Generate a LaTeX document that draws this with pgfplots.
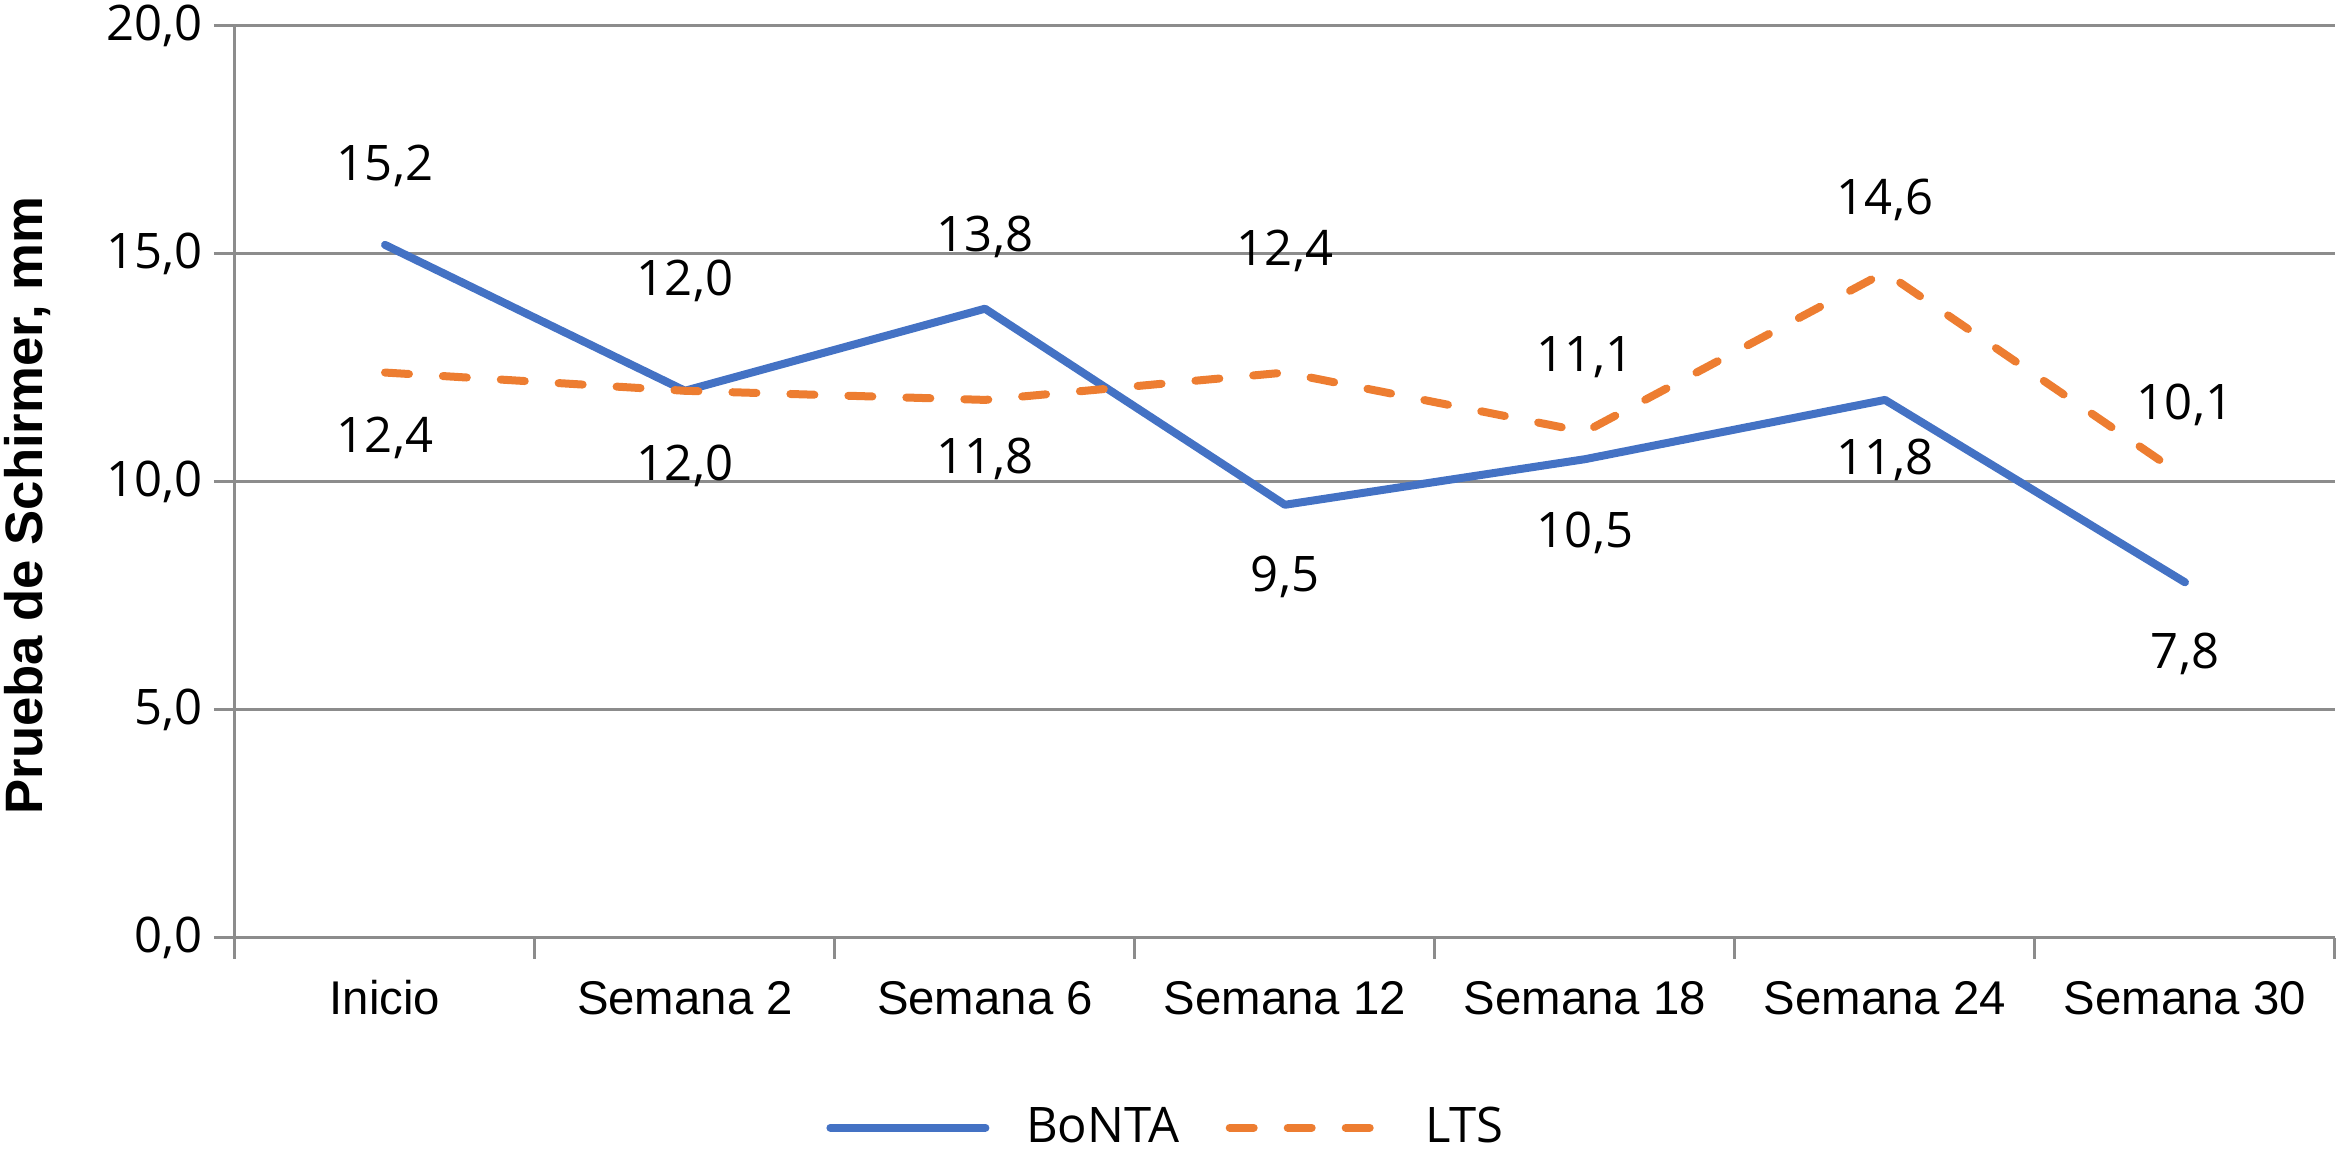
\documentclass[border=0pt]{standalone}
\usepackage{fontspec}
\setmainfont{Open Sans}
\newfontfamily\arialf{Liberation Sans}
\usepackage{pgfplots}
\pgfplotsset{compat=1.18}
\usepackage{pgfplotstable}
\definecolor{bont}{HTML}{4472C4}
\definecolor{lts}{HTML}{ED7D31}
\definecolor{gridc}{RGB}{140,140,140}

\pgfplotstableread{
x y dy
0 15.2 23.7
1 12.0 33
2 13.8 21.6
3 9.5 -21.6
4 10.5 -22.2
5 11.8 -18
6 7.8 -21.6
}\bontatab
\pgfplotstableread{
x y dy
0 12.4 -19.5
1 12.0 -22.5
2 11.8 -17.7
3 12.4 36.6
4 11.1 22.5
5 14.6 21.6
6 10.1 21.9
}\ltstab

\begin{document}
\begin{tikzpicture}
\useasboundingbox (0,0) rectangle (702.3pt,345pt);
\begin{axis}[
  at={(70.5pt,63.6pt)}, anchor=south west,
  scale only axis, width=630pt, height=273.6pt,
  xmin=-0.5, xmax=6.5, ymin=0, ymax=20,
  axis x line*=bottom, axis y line*=left,
  axis line style={draw=gridc, line width=0.9pt, -},
  tick align=outside,
  tick style={draw=gridc, line width=0.9pt},
  major tick length=6.3pt,
  ytick={0,5,10,15,20},
  ymajorgrids,
  grid style={draw=gridc, line width=0.9pt},
  xtick={-0.5,0.5,1.5,2.5,3.5,4.5,5.5,6.5},
  xticklabels={,,,,,,,},
  extra x ticks={0,1,2,3,4,5,6},
  extra x tick labels={Inicio,Semana 2,Semana 6,Semana 12,Semana 18,Semana 24,Semana 30},
  extra x tick style={major tick length=0pt},
  xticklabel style={font=\arialf\fontsize{14.2}{16}\selectfont, anchor=base, yshift=-23.1pt},
  yticklabel style={font=\fontsize{14.7}{17}\selectfont},
  ylabel={\arialf\bfseries Prueba de Schirmer, mm},
  every axis y label/.style={at={(axis description cs:-0.0988,0.474)}, rotate=90, anchor=center, font=\fontsize{15.8}{18}\selectfont},
  legend columns=2,
  legend style={at={(0.4445,-0.208)}, anchor=center, draw=none, fill=none,
    font=\fontsize{14.7}{17}\selectfont,
    /tikz/every odd column/.append style={column sep=9pt},
    /tikz/every even column/.append style={column sep=12pt}},
  legend image code/.code={\draw[#1] (0pt,0pt) -- (46.5pt,0pt);},
  nodes near coords={\pgfmathprintnumber{\pgfplotspointmeta}},
  visualization depends on={\thisrow{dy} \as \dy},
  every node near coord/.append style={anchor=center, yshift=\dy pt, text=black, font=\fontsize{14.7}{17}\selectfont},
  /pgf/number format/fixed,
  /pgf/number format/fixed zerofill,
  /pgf/number format/precision=1,
  /pgf/number format/use comma,
  /pgf/number format/assume math mode=true,
]
\addplot[bont, line width=2.4pt, line cap=round, line join=round] table[x=x,y=y] {\bontatab};
\addlegendentry{BoNTA}
\addplot[lts, line width=2.4pt, line cap=round, line join=round, dash pattern=on 7.2pt off 10.2pt] table[x=x,y=y] {\ltstab};
\addlegendentry{LTS}
\end{axis}
\end{tikzpicture}
\end{document}
